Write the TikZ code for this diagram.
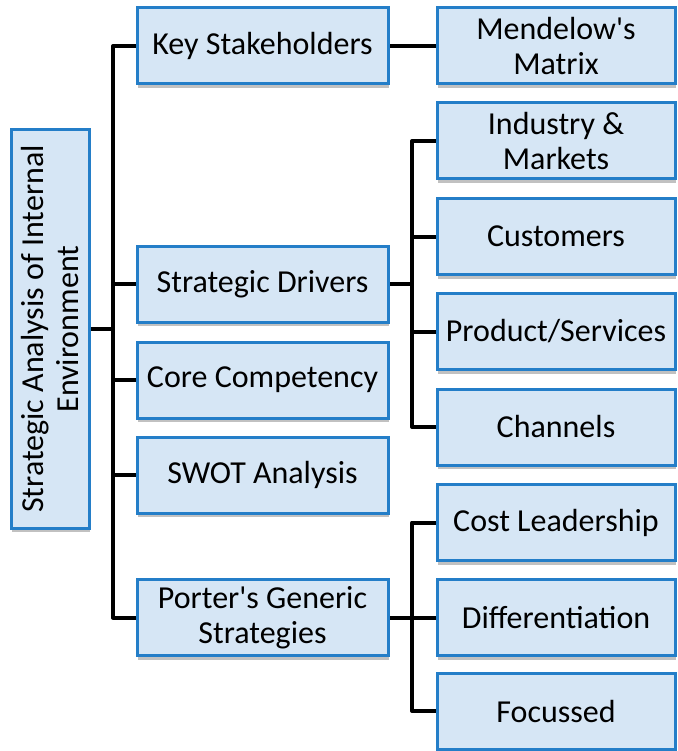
\documentclass[tikz,border=0pt]{standalone}
\usepackage{fontspec}
\setmainfont{Carlito}[Ligatures=TeXOff]
\usetikzlibrary{shadows,backgrounds}
\definecolor{boxfill}{RGB}{214,230,245}
\definecolor{boxline}{RGB}{36,126,200}
\tikzset{
  box/.style={draw=boxline, fill=boxfill, line width=3pt, align=center,
    inner sep=0pt, font=\fontsize{32}{35}\selectfont,
    drop shadow={shadow xshift=1pt, shadow yshift=-4pt, opacity=0.35, fill=black!70}},
  lvltwo/.style={box, minimum width=251pt, minimum height=76pt},
  lvlthree/.style={box, minimum width=238pt, minimum height=76pt},
  conn/.style={draw=black, line width=4pt, line join=round}
}
\begin{document}
\begin{tikzpicture}[x=1pt,y=1pt]
\useasboundingbox (0,0) rectangle (677,-751);
% nodes
\node[box, rotate=90, minimum width=398pt, minimum height=78pt] (root) at (50,-329)
  {Strategic Analysis of Internal\\Environment};
\node[lvltwo] (ks)   at (262.5,-46)    {Key Stakeholders};
\node[lvltwo] (sd)   at (262.5,-284)   {Strategic Drivers};
\node[lvltwo] (cc)   at (262.5,-380)   {Core Competency};
\node[lvltwo] (swot) at (262.5,-475)   {SWOT Analysis};
\node[lvltwo] (pgs)  at (262.5,-617.5) {Porter's Generic\\Strategies};
\node[lvlthree] (mend) at (556,-46)    {Mendelow's\\Matrix};
\node[lvlthree] (ind)  at (556,-141)   {Industry \&\\Markets};
\node[lvlthree] (cust) at (556,-236.5) {Customers};
\node[lvlthree] (prod) at (556,-331.5) {Product/Services};
\node[lvlthree] (chan) at (556,-427)   {Channels};
\node[lvlthree] (cost) at (556,-522.5) {Cost Leadership};
\node[lvlthree] (diff) at (556,-617.5) {Differentiation};
\node[lvlthree] (foc)  at (556,-711)   {Focussed};
\coordinate (ta) at (113,0);
\coordinate (tb) at (412,0);
% connectors (behind boxes)
\begin{scope}[on background layer]
\draw[conn] (root.south) -- (root.south -| ta);
\draw[conn] (ks.west) -- (ks.west -| ta) |- (pgs.west);
\draw[conn] (sd.west -| ta) -- (sd.west);
\draw[conn] (cc.west -| ta) -- (cc.west);
\draw[conn] (swot.west -| ta) -- (swot.west);
\draw[conn] (ks.east) -- (mend.west);
\draw[conn] (ind.west) -- (ind.west -| tb) |- (chan.west);
\draw[conn] (sd.east) -- (sd.east -| tb);
\draw[conn] (cust.west -| tb) -- (cust.west);
\draw[conn] (prod.west -| tb) -- (prod.west);
\draw[conn] (cost.west) -- (cost.west -| tb) |- (foc.west);
\draw[conn] (pgs.east) -- (diff.west);
\end{scope}
\end{tikzpicture}
\end{document}
